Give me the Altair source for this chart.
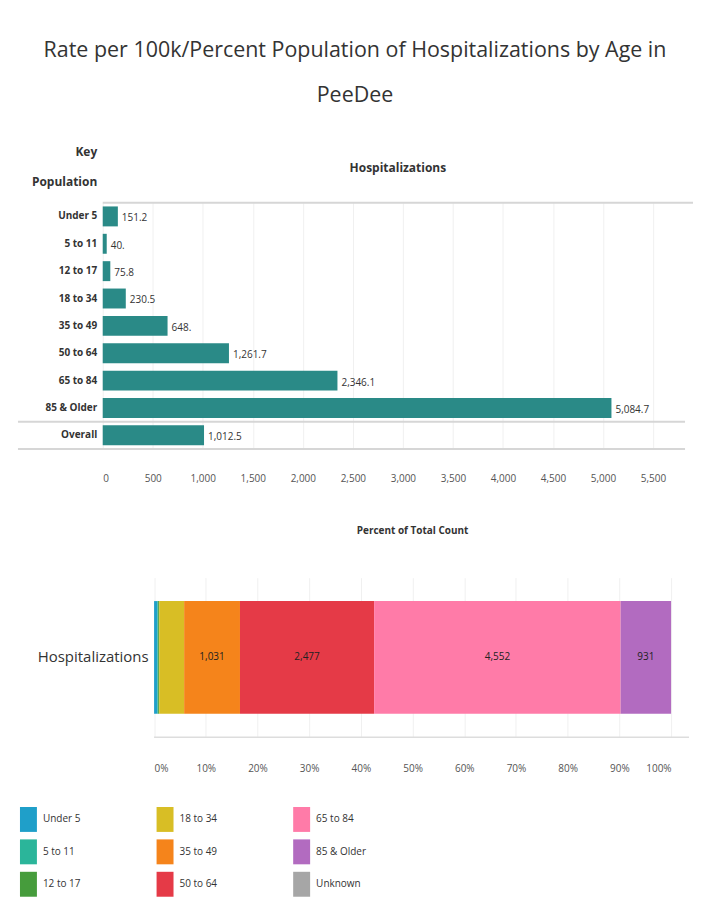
import altair as alt
import pandas as pd

title_lines = ["Rate per 100k/Percent Population of Hospitalizations by Age in", "PeeDee"]
age_groups = ["Under 5", "5 to 11", "12 to 17", "18 to 34", "35 to 49",
              "50 to 64", "65 to 84", "85 & Older"]
rate_rows = age_groups + ["Overall"]
rates = [151.2, 40.0, 75.8, 230.5, 648.0, 1261.7, 2346.1, 5084.7, 1012.5]
counts = [60, 15, 20, 460, 1031, 2477, 4552, 931]
legend_cats = age_groups + ["Unknown"]
colors = ["#1f9fc9", "#2bb59a", "#469c3c", "#d8be25", "#f5841b",
          "#e53a47", "#ff7ba8", "#b26bc0", "#a6a6a6"]
rate_ticks = list(range(0, 6000, 500))
pct_ticks = [i / 10 for i in range(11)]
header_rate = "Hospitalizations"
header_rows = ["Key", "Population"]
header_pct = "Percent of Total Count"
measure = "Hospitalizations"

FONT = "Open Sans"
TXT = "#333333"


def fmt(v):
    s = f"{v:,.1f}"
    return s[:-1] if s.endswith("0") else s


rate_df = pd.DataFrame({"group": rate_rows, "rate": rates,
                        "label": [fmt(v) for v in rates]})
one = pd.DataFrame({"k": [0]})

W1, H1 = 592, 247
xs1 = alt.Scale(domain=[0, 5900], nice=False, zero=True)
ys1 = alt.Scale(domain=rate_rows, paddingInner=0, paddingOuter=0)

bars1 = alt.Chart(rate_df).mark_bar(color="#2a8a87", size=20).encode(
    x=alt.X("rate:Q", scale=xs1,
            axis=alt.Axis(values=rate_ticks, format=",d", title=None, grid=True,
                          gridColor="#f0f0f0", domain=False, ticks=False,
                          labelPadding=25, labelFontSize=10, labelColor="#555555",
                          labelFont=FONT)),
    y=alt.Y("group:N", scale=ys1, sort=rate_rows,
            axis=alt.Axis(title=header_rows, titleAngle=0, titleAlign="right",
                          titleBaseline="bottom", titleX=-6, titleY=-44,
                          titleLineHeight=30, titleFontSize=12, titleFont=FONT,
                          titleColor=TXT, titleFontWeight="bold",
                          labelFontSize=10, labelFont=FONT, labelColor=TXT,
                          labelFontWeight="bold", labelPadding=6,
                          ticks=False, domain=False, grid=False)),
)
labels1 = alt.Chart(rate_df).mark_text(align="left", dx=4, dy=2, fontSize=10,
                                       font=FONT, color=TXT).encode(
    x=alt.X("rate:Q", scale=xs1),
    y=alt.Y("group:N", scale=ys1, sort=rate_rows),
    text="label:N",
)
hdr1 = alt.Chart(one).mark_text(fontSize=12, font=FONT, fontWeight="bold",
                                color=TXT).encode(
    x=alt.value(W1 / 2), y=alt.value(-35), text=alt.value(header_rate))
line_top = alt.Chart(one).mark_rule(color="#d6d6d6", strokeWidth=2).encode(
    x=alt.value(0), x2=alt.value(W1), y=alt.value(0))
line_mid = alt.Chart(one).mark_rule(color="#d6d6d6", strokeWidth=2).encode(
    x=alt.value(-85), x2=alt.value(W1 - 8), y=alt.value(H1 * 8 / 9))
line_bot = alt.Chart(one).mark_rule(color="#d6d6d6", strokeWidth=2).encode(
    x=alt.value(-85), x2=alt.value(W1 - 8), y=alt.value(H1))

top = alt.layer(bars1, labels1, hdr1, line_top, line_mid, line_bot).properties(
    width=W1, height=H1)

# ---- bottom: percent of total
share_df = pd.DataFrame({"measure": [measure] * len(age_groups), "age": age_groups,
                         "count": counts, "order": list(range(len(age_groups)))})
W2, H2 = 588, 160
X0, X1 = 51.5, 570
xs2 = alt.Scale(domain=[0, 1], range=[X0, X1], nice=False)
ys2 = alt.Scale(domain=[measure])

perm = [0, 3, 6, 1, 4, 7, 2, 5, 8]
leg_domain = [legend_cats[i] for i in perm]
leg_range = [colors[i] for i in perm]

bars2 = alt.Chart(share_df).mark_bar(size=113).encode(
    x=alt.X("count:Q", stack="normalize", scale=xs2,
            axis=alt.Axis(values=pct_ticks, format=".0%", title=None, grid=True,
                          gridColor="#f0f0f0", domain=False, ticks=False,
                          labelPadding=26, labelFontSize=10, labelColor="#555555",
                          labelFont=FONT)),
    y=alt.Y("measure:N", scale=ys2,
            axis=alt.Axis(title=None, offset=-X0, labelFontSize=15, labelFont=FONT,
                          labelColor=TXT, labelPadding=6, ticks=False, domain=False)),
    color=alt.Color("age:N", scale=alt.Scale(domain=leg_domain, range=leg_range),
                    legend=alt.Legend(title=None, orient="none", legendX=-87,
                                      legendY=606, columns=3, direction="horizontal",
                                      gridAlign="all", columnPadding=59, rowPadding=7.5,
                                      symbolType="M-0.68,-1H0.68V1H-0.68Z",
                                      symbolSize=625, symbolStrokeWidth=0,
                                      labelFontSize=10, labelFont=FONT,
                                      labelColor=TXT, labelOffset=2)),
    order=alt.Order("order:Q"),
)
labels2 = alt.Chart(share_df).transform_stack(
    stack="count", groupby=["measure"], as_=["s0", "s1"], offset="normalize",
    sort=[alt.SortField("order")]
).transform_calculate(mid="(datum.s0 + datum.s1) / 2").transform_filter(
    "datum.count > 500"
).mark_text(fontSize=10, font=FONT, color="#222222").encode(
    x=alt.X("mid:Q", scale=xs2),
    y=alt.Y("measure:N", scale=ys2),
    text=alt.Text("count:Q", format=",d"),
)
hdr2 = alt.Chart(one).mark_text(fontSize=10, font=FONT, fontWeight="bold",
                                color=TXT).encode(
    x=alt.value((X0 + X1) / 2), y=alt.value(-47), text=alt.value(header_pct))
axis2 = alt.Chart(one).mark_rule(color="#dddddd", strokeWidth=1.5).encode(
    x=alt.value(X0), x2=alt.value(W2), y=alt.value(H2))

bottom = alt.layer(bars2, labels2, hdr2, axis2).properties(width=W2, height=H2)

chart = alt.vconcat(top, bottom, spacing=42).properties(
    title=alt.TitleParams(title_lines, fontSize=21.5, font=FONT, color=TXT,
                          fontWeight="normal", anchor="middle", lineHeight=45,
                          offset=40),
    background="white",
    padding={"left": 8, "top": 30, "right": 5, "bottom": 5},
).configure_view(stroke=None)

chart.save("out.html", embed_options={"renderer": "svg", "actions": False})
